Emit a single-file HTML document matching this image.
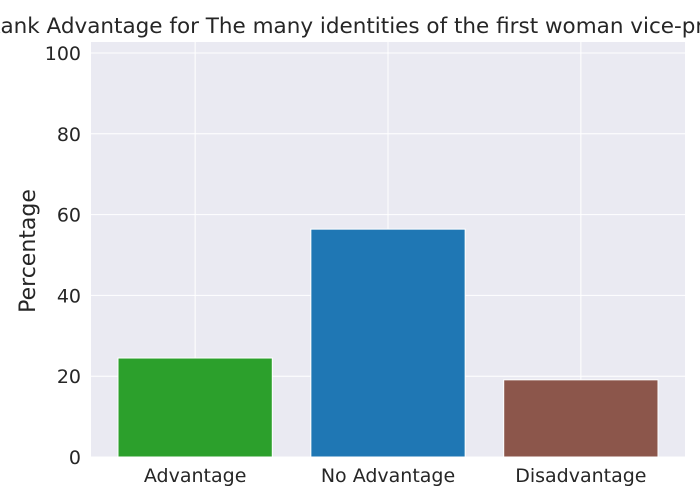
<!DOCTYPE html>
<html><head><meta charset="utf-8"><style>
body{margin:0;background:#fff;}
svg{display:block;font-family:"DejaVu Sans","Liberation Sans",sans-serif;}
</style></head><body>
<svg id="chart" width="700" height="500">
<text x="-14" y="33" text-anchor="start" font-size="21.5" fill="#262626">Rank Advantage for The many identities of the first woman vice-president</text>
<rect x="91" y="42" width="594" height="415" fill="#eaeaf2"/>
<g id="grid"></g><g id="bars"></g><g id="labels"></g>
<text transform="translate(35,251) rotate(-90)" text-anchor="middle" font-size="22" fill="#262626">Percentage</text>
</svg>
<script>
const categories = ["Advantage", "No Advantage", "Disadvantage"];
const values = [24.5, 56.4, 19.1];
const colors = ["#2ca02c", "#1f77b4", "#8c564b"];
const yTicks = [0, 20, 40, 60, 80, 100];
const NS = "http://www.w3.org/2000/svg";
const left = 91, right = 685, y0px = 457, yPer = 4.04;
const xmin = -0.54, xmax = 2.54;
const xs = v => left + (v - xmin) / (xmax - xmin) * (right - left);
const ys = v => y0px - v * yPer;
function mk(tag, attrs, parent) {
  const e = document.createElementNS(NS, tag);
  for (const k in attrs) e.setAttribute(k, attrs[k]);
  parent.appendChild(e);
  return e;
}
const grid = document.getElementById("grid"), bars = document.getElementById("bars"), labels = document.getElementById("labels");
yTicks.forEach(t => {
  const l = mk("line", {x1: left, x2: right, y1: ys(t), y2: ys(t), stroke: "#fff", "stroke-width": 1}, grid);
  
  
  const tx = mk("text", {x: 81, y: ys(t) + 7, "text-anchor": "end", "font-size": 19, fill: "#262626"}, labels);
  tx.textContent = t;
  
  
});
categories.forEach((c, i) => {
  const l = mk("line", {x1: xs(i), x2: xs(i), y1: 42, y2: 457, stroke: "#fff", "stroke-width": 1}, grid);
  
  
  const w = xs(0.4) - xs(-0.4);
  const r = mk("rect", {x: xs(i) - w / 2, y: ys(values[i]), width: w, height: ys(0) - ys(values[i]), fill: colors[i], stroke: "#fff", "stroke-width": 1}, bars);
  
  
  const tx = mk("text", {x: xs(i), y: 482, "text-anchor": "middle", "font-size": 19, fill: "#262626"}, labels);
  tx.textContent = c;
  
  
});
</script>
</body></html>
